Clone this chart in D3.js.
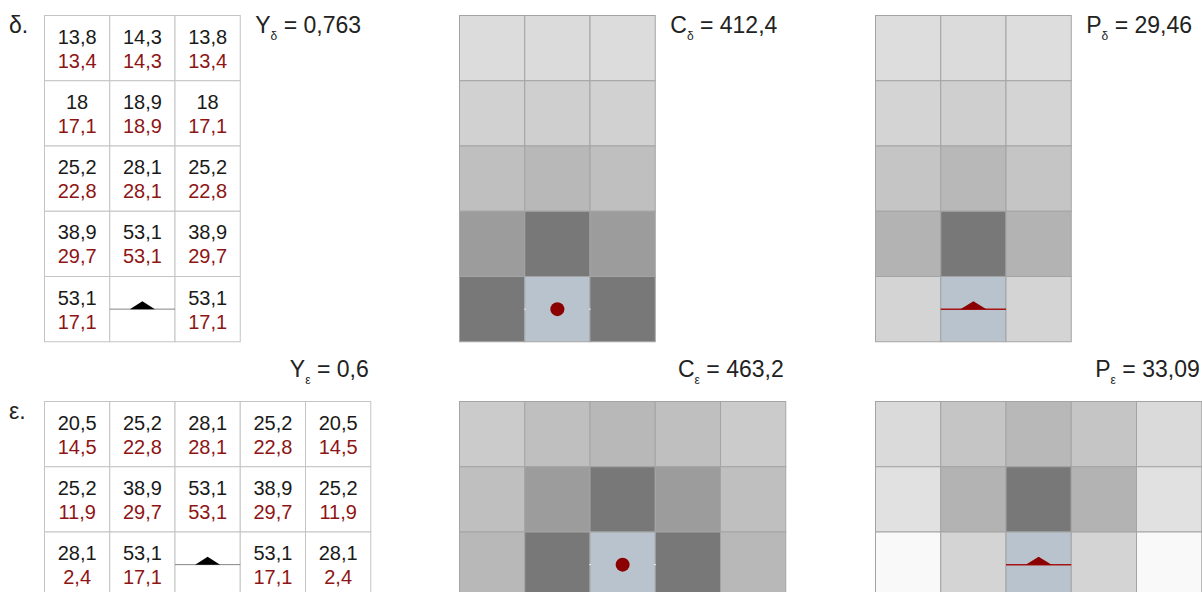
<!DOCTYPE html>
<html>
<head>
<meta charset="utf-8">
<script src="https://cdn.jsdelivr.net/npm/d3@7"></script>
<style>
  html, body { margin: 0; padding: 0; background: #fff; }
  svg { display: block; }
</style>
</head>
<body>
<svg id="chart" width="1202" height="592"></svg>
<script>
// Values per cell: first line (black) and second line (red); null marks the source cell.
const deltaBlack = [
  [13.8, 14.3, 13.8],
  [18, 18.9, 18],
  [25.2, 28.1, 25.2],
  [38.9, 53.1, 38.9],
  [53.1, null, 53.1]
];
const deltaRed = [
  [13.4, 14.3, 13.4],
  [17.1, 18.9, 17.1],
  [22.8, 28.1, 22.8],
  [29.7, 53.1, 29.7],
  [17.1, null, 17.1]
];
const epsBlack = [
  [20.5, 25.2, 28.1, 25.2, 20.5],
  [25.2, 38.9, 53.1, 38.9, 25.2],
  [28.1, 53.1, null, 53.1, 28.1]
];
const epsRed = [
  [14.5, 22.8, 28.1, 22.8, 14.5],
  [11.9, 29.7, 53.1, 29.7, 11.9],
  [2.4, 17.1, null, 17.1, 2.4]
];
// Summary values shown next to each panel
const summaryLetters = ["Y", "C", "P"];
const deltaSummary = ["0,763", "412,4", "29,46"];
const epsSummary = ["0,6", "463,2", "33,09"];

const fmt = v => String(v).replace(".", ",");

const svg = d3.select("#chart");
const cell = 65.25;
const panelX = [44.5, 459.5, 875.5];
const labelFont = "'Liberation Sans', Arial, sans-serif";
const numFont = "'Liberation Sans', Arial, sans-serif";
const srcFill = "#b9c3cd";
const darkRed = "#8b0000";
const numRed = "#8e1515";

const allVals = [...deltaBlack, ...deltaRed, ...epsBlack, ...epsRed].flat().filter(v => v != null);
const shade = d3.scaleLinear().domain([0, d3.max(allVals)]).range(["#ffffff", "#787878"]);

const sections = [
  { sym: "δ", top: 15.5, black: deltaBlack, red: deltaRed, summary: deltaSummary, labelSide: true },
  { sym: "ε", top: 401.5, black: epsBlack, red: epsRed, summary: epsSummary, labelSide: false }
];

sections.forEach(sec => {
  const nRows = sec.black.length, nCols = sec.black[0].length;
  const cells = [];
  sec.black.forEach((row, r) => row.forEach((v, c) => cells.push({ r, c, b: v, red: sec.red[r][c] })));

  // section letter
  svg.append("text")
    .attr("x", 9).attr("y", sec.top + 17)
    .attr("font-family", labelFont).attr("font-size", 23).attr("fill", "#222")
    .text(sec.sym + ".");

  panelX.forEach((x0, p) => {
    const x = d3.scaleBand().domain(d3.range(nCols)).range([x0, x0 + nCols * cell]);
    const y = d3.scaleBand().domain(d3.range(nRows)).range([sec.top, sec.top + nRows * cell]);
    const g = svg.append("g");
    const src = cells.find(d => d.b == null);
    const cx = x(src.c) + cell / 2, cy = y(src.r) + cell / 2;

    if (p === 0) {
      // value table
      g.selectAll("rect").data(cells).join("rect")
        .attr("x", d => x(d.c)).attr("y", d => y(d.r))
        .attr("width", cell).attr("height", cell)
        .attr("fill", "#fff").attr("stroke", "#c4c4c4").attr("stroke-width", 1);
      const txt = cells.filter(d => d.b != null);
      g.selectAll("text.b").data(txt).join("text").attr("class", "b")
        .attr("x", d => x(d.c) + cell / 2).attr("y", d => y(d.r) + 28)
        .attr("text-anchor", "middle").attr("font-family", numFont).attr("font-size", 20)
        .attr("fill", "#1a1a1a").text(d => fmt(d.b));
      g.selectAll("text.r").data(txt).join("text").attr("class", "r")
        .attr("x", d => x(d.c) + cell / 2).attr("y", d => y(d.r) + 52)
        .attr("text-anchor", "middle").attr("font-family", numFont).attr("font-size", 20)
        .attr("fill", numRed).text(d => fmt(d.red));
      g.append("line")
        .attr("x1", x(src.c)).attr("x2", x(src.c) + cell).attr("y1", cy).attr("y2", cy)
        .attr("stroke", "#858585").attr("stroke-width", 1);
      g.append("path")
        .attr("d", `M${cx - 12.5},${cy} L${cx},${cy - 8} L${cx + 12.5},${cy} Z`)
        .attr("fill", "#000");
    } else {
      const key = p === 1 ? "b" : "red";
      g.selectAll("rect").data(cells).join("rect")
        .attr("x", d => x(d.c)).attr("y", d => y(d.r))
        .attr("width", cell).attr("height", cell)
        .attr("fill", d => d[key] == null ? srcFill : shade(d[key]))
        .attr("stroke", "#a4a4a4").attr("stroke-width", 1);
      if (p === 1) {
        // small white notches where the centre line meets the cell edges
        g.append("line")
          .attr("x1", x(src.c) - 0.5).attr("x2", x(src.c) + cell + 0.5).attr("y1", cy).attr("y2", cy)
          .attr("stroke", "#fff").attr("stroke-width", 1);
        g.append("rect")
          .attr("x", x(src.c) + 1).attr("y", y(src.r) + 1)
          .attr("width", cell - 2).attr("height", cell - 2).attr("fill", srcFill);
        g.append("circle").attr("cx", cx).attr("cy", cy).attr("r", 7).attr("fill", darkRed);
      } else {
        g.append("line")
          .attr("x1", x(src.c)).attr("x2", x(src.c) + cell).attr("y1", cy).attr("y2", cy)
          .attr("stroke", "#a51515").attr("stroke-width", 1.5);
        g.append("path")
          .attr("d", `M${cx - 13},${cy} L${cx},${cy - 8} L${cx + 13},${cy} Z`)
          .attr("fill", darkRed);
      }
    }

    // summary label
    const right = x0 + nCols * cell;
    const t = svg.append("text")
      .attr("font-family", labelFont).attr("font-size", 23).attr("fill", "#222");
    if (sec.labelSide) {
      t.attr("x", right + 15).attr("y", sec.top + 17.5).attr("text-anchor", "start");
    } else {
      t.attr("x", right - 2).attr("y", sec.top - 24.5).attr("text-anchor", "end");
    }
    t.append("tspan").text(summaryLetters[p]);
    t.append("tspan").attr("font-size", 12).attr("dy", 7).text(sec.sym);
    t.append("tspan").attr("dy", -7).text(" = " + sec.summary[p]);
  });
});
</script>
</body>
</html>
